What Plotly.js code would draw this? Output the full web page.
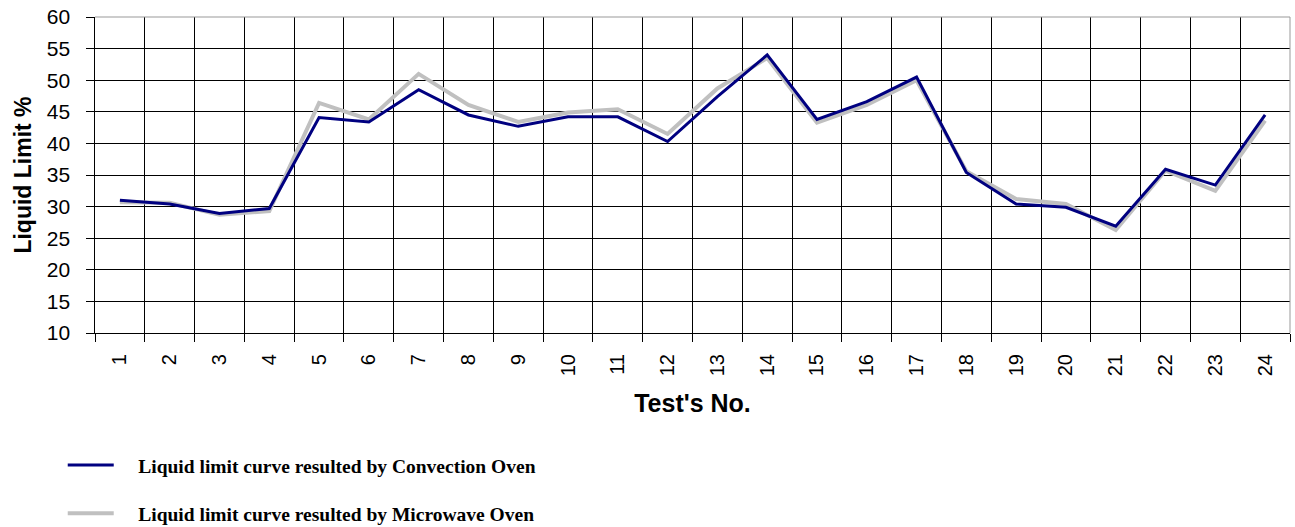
<!DOCTYPE html>
<html>
<head>
<meta charset="utf-8">
<script src="https://cdn.plot.ly/plotly-3.0.1.min.js"></script>
<style>html,body{margin:0;padding:0;background:#fff;}#chart{width:1295px;height:527px;}</style>
</head>
<body>
<div id="chart"></div>
<script>
const tests = ["1","2","3","4","5","6","7","8","9","10","11","12","13","14","15","16","17","18","19","20","21","22","23","24"];
const convectionOven = [31.0,30.4,28.9,29.7,44.1,43.4,48.5,44.5,42.7,44.2,44.2,40.3,47.4,54.0,43.8,46.6,50.5,35.4,30.4,29.9,26.9,35.9,33.4,44.5];
const microwaveOven  = [30.7,30.6,28.7,29.3,46.4,43.8,51.0,46.1,43.4,44.9,45.4,41.5,48.7,53.5,43.3,46.1,50.0,35.6,31.2,30.4,26.3,35.7,32.5,43.6];
const yTicks = [10,15,20,25,30,35,40,45,50,55,60];

const gap = "&nbsp;&nbsp;&nbsp;&nbsp;";
const traces = [
  {x: tests, y: microwaveOven, type: "scatter", mode: "lines",
   name: gap + "<b>Liquid limit curve resulted by Microwave Oven</b>",
   line: {color: "#c0c0c0", width: 4}, legendgroup: "b", legendrank: 2},
  {x: tests, y: convectionOven, type: "scatter", mode: "lines",
   name: gap + "<b>Liquid limit curve resulted by Convection Oven</b>",
   line: {color: "#000080", width: 3}, legendgroup: "a", legendrank: 1}
];

const layout = {
  width: 1295, height: 527,
  margin: {l: 95, r: 5, t: 17, b: 194, autoexpand: false},
  paper_bgcolor: "#fff", plot_bgcolor: "#fff",
  showlegend: true,
  legend: {x: -0.027, xanchor: "left", y: -0.357, yanchor: "top",
           itemwidth: 46,
           traceorder: "grouped", tracegroupgap: 20,
           font: {family: "Liberation Serif, Times New Roman, serif", size: 19.5, color: "#000"}},
  xaxis: {
    type: "category", tickson: "boundaries", range: [-0.5, 23.5],
    showgrid: true, gridcolor: "#000", gridwidth: 1,
    showline: true, linecolor: "#000", linewidth: 1,
    ticks: "outside", ticklen: 8, tickcolor: "#000",
    tickangle: -90, ticklabelstandoff: 12,
    tickfont: {family: "Liberation Sans, Arial, sans-serif", size: 20, color: "#000"},
    title: {text: "<b>Test's No.</b>", standoff: 19,
            font: {family: "Liberation Sans, Arial, sans-serif", size: 25, color: "#000"}},
    zeroline: false
  },
  yaxis: {
    range: [10, 60], tickvals: yTicks, ticktext: yTicks.map(v => v + "\u00a0\u00a0"),
    showgrid: true, gridcolor: "#000", gridwidth: 1,
    showline: true, linecolor: "#000", linewidth: 1,
    ticks: "outside", ticklen: 8, tickcolor: "#000",
    tickfont: {family: "Liberation Sans, Arial, sans-serif", size: 21, color: "#000"},
    title: {text: "<b>Liquid Limit %</b>", standoff: 8,
            font: {family: "Liberation Sans, Arial, sans-serif", size: 23, color: "#000"}},
    zeroline: false
  },
  shapes: [
    {type: "line", xref: "paper", yref: "paper", x0: 0, x1: 1, y0: 1, y1: 1, line: {color: "#999", width: 1}},
    {type: "line", xref: "paper", yref: "paper", x0: 1, x1: 1, y0: 0, y1: 1, line: {color: "#999", width: 1}}
  ]
};

Plotly.newPlot("chart", traces, layout, {displayModeBar: false, staticPlot: true});
</script>
</body>
</html>
